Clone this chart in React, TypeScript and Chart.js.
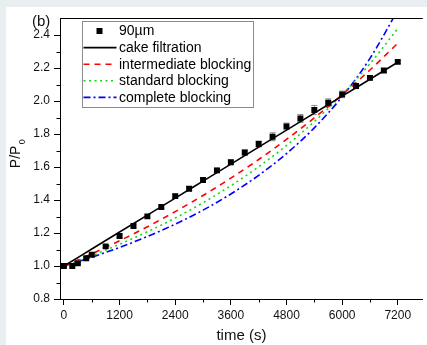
import React, { useEffect, useRef } from 'react';
import { Chart, registerables } from 'chart.js';

Chart.register(...registerables);

// Measured data (time in s, P/P0)
const measuredTimes = [0, 180, 300, 480, 600, 900, 1200, 1500, 1800, 2100, 2400, 2700, 3000, 3300, 3600, 3900, 4200, 4500, 4800, 5100, 5400, 5700, 6000, 6300, 6600, 6900, 7200];
const measuredRatio = [1.0, 1.0, 1.016, 1.047, 1.068, 1.119, 1.182, 1.243, 1.301, 1.358, 1.424, 1.469, 1.522, 1.58, 1.629, 1.688, 1.74, 1.784, 1.847, 1.895, 1.946, 1.99, 2.041, 2.092, 2.141, 2.186, 2.238];
const measuredError = [0.004, 0.004, 0.005, 0.006, 0.006, 0.008, 0.008, 0.01, 0.01, 0.01, 0.012, 0.012, 0.012, 0.014, 0.014, 0.016, 0.018, 0.024, 0.02, 0.024, 0.028, 0.024, 0.02, 0.016, 0.014, 0.012, 0.01];

// Model curves
const modelTimes = [0, 600, 1200, 1800, 2400, 3000, 3600, 4200, 4800, 5400, 6000, 6600, 7200];
const cakeFiltration = [1.0, 1.103, 1.206, 1.309, 1.412, 1.515, 1.618, 1.721, 1.824, 1.927, 2.03, 2.133, 2.236];
const intermediateBlocking = [1.0, 1.074, 1.153, 1.238, 1.33, 1.428, 1.533, 1.646, 1.768, 1.898, 2.039, 2.189, 2.351];
const standardBlocking = [1.0, 1.063, 1.132, 1.208, 1.291, 1.384, 1.487, 1.602, 1.731, 1.876, 2.04, 2.227, 2.44];
const completeBlocking = [1.0, 1.053, 1.113, 1.179, 1.254, 1.339, 1.437, 1.55, 1.682, 1.838, 2.027, 2.259, 2.551];

const seriesLabels = ['90µm', 'cake filtration', 'intermediate blocking', 'standard blocking', 'complete blocking'];

// Axes
const xTicks = [0, 1200, 2400, 3600, 4800, 6000, 7200];
const xTickLabels = ['0', '1200', '2400', '3600', '4800', '6000', '7200'];
const xMinorTicks = [600, 1800, 3000, 4200, 5400, 6600];
const yTicks = [0.8, 1.0, 1.2, 1.4, 1.6, 1.8, 2.0, 2.2, 2.4];
const yTickLabels = ['0.8', '1.0', '1.2', '1.4', '1.6', '1.8', '2.0', '2.2', '2.4'];
const yMinorTicks = [0.9, 1.1, 1.3, 1.5, 1.7, 1.9, 2.1, 2.3];
const xTitle = 'time (s)';
const yTitleMain = 'P/P';
const yTitleSub = '0';
const panelLabel = '(b)';

const FONT = '"Liberation Sans", Arial, Helvetica, sans-serif';

const extrasPlugin = {
  id: 'extras',
  beforeDatasetsDraw(chart: any) {
    const { ctx, scales } = chart;
    const x = scales.x;
    const y = scales.y;
    ctx.save();
    ctx.strokeStyle = '#8c8c8c';
    ctx.lineWidth = 1;
    measuredTimes.forEach((t, i) => {
      const px = x.getPixelForValue(t);
      const top = y.getPixelForValue(measuredRatio[i] + measuredError[i]);
      const bot = y.getPixelForValue(measuredRatio[i] - measuredError[i]);
      ctx.beginPath();
      ctx.moveTo(px, top);
      ctx.lineTo(px, bot);
      ctx.moveTo(px - 3, top);
      ctx.lineTo(px + 3, top);
      ctx.moveTo(px - 3, bot);
      ctx.lineTo(px + 3, bot);
      ctx.stroke();
    });
    ctx.restore();
  },
  afterDraw(chart: any) {
    const { ctx, chartArea, scales } = chart;
    const x = scales.x;
    const y = scales.y;
    ctx.save();
    // top frame line
    ctx.strokeStyle = '#000';
    ctx.lineWidth = 1;
    const ty = Math.round(chartArea.top) + 0.5;
    ctx.beginPath();
    ctx.moveTo(chartArea.left, ty);
    ctx.lineTo(chartArea.right, ty);
    ctx.stroke();
    // minor ticks
    ctx.beginPath();
    xMinorTicks.forEach((v) => {
      const px = Math.round(x.getPixelForValue(v)) + 0.5;
      ctx.moveTo(px, chartArea.bottom);
      ctx.lineTo(px, chartArea.bottom + 3.5);
    });
    yMinorTicks.forEach((v) => {
      const py = Math.round(y.getPixelForValue(v)) + 0.5;
      ctx.moveTo(chartArea.left, py);
      ctx.lineTo(chartArea.left - 3.5, py);
    });
    ctx.stroke();

    // panel label
    ctx.fillStyle = '#111';
    ctx.font = `15px ${FONT}`;
    ctx.textAlign = 'left';
    ctx.textBaseline = 'middle';
    ctx.fillText(panelLabel, chartArea.left - 28, chartArea.top + 4);

    // y title with subscript
    ctx.save();
    ctx.translate(chartArea.left - 40, chartArea.top + 150);
    ctx.rotate(-Math.PI / 2);
    ctx.textBaseline = 'alphabetic';
    ctx.font = `14px ${FONT}`;
    ctx.fillText(yTitleMain, 0, 0);
    const w1 = ctx.measureText(yTitleMain).width;
    ctx.font = `9px ${FONT}`;
    ctx.fillText(yTitleSub, w1 + 1.5, 5);
    ctx.restore();

    // legend
    const bx = Math.round(chartArea.left + 22) + 0.5;
    const by = Math.round(chartArea.top + 3) + 0.5;
    const bw = 171;
    const bh = 86;
    ctx.strokeStyle = '#8a8a8a';
    ctx.lineWidth = 1;
    ctx.strokeRect(bx, by, bw, bh);
    ctx.font = `14px ${FONT}`;
    ctx.textBaseline = 'middle';
    chart.data.datasets.forEach((ds: any, i: number) => {
      const ry = by + 9.5 + i * 16.6;
      if (i === 0) {
        ctx.fillStyle = '#000';
        ctx.fillRect(bx + 14, ry - 3, 6, 6);
      } else {
        ctx.save();
        ctx.strokeStyle = ds.borderColor;
        ctx.lineWidth = ds.borderWidth;
        ctx.setLineDash(ds.borderDash || []);
        ctx.beginPath();
        ctx.moveTo(bx + 1, ry);
        ctx.lineTo(bx + 34, ry);
        ctx.stroke();
        ctx.restore();
      }
      ctx.fillStyle = '#000';
      ctx.fillText(ds.label, bx + 36.5, ry + 0.5);
    });
    ctx.restore();
  },
};

function pts(xs: number[], ys: number[]) {
  return xs.map((t, i) => ({ x: t, y: ys[i] }));
}

export default function App() {
  const ref = useRef<HTMLCanvasElement>(null);

  useEffect(() => {
    if (!ref.current) return;
    const lineBase = {
      showLine: true,
      pointRadius: 0,
      pointHoverRadius: 0,
      borderWidth: 1.6,
      cubicInterpolationMode: 'monotone' as const,
      fill: false,
    };
    const chart = new Chart(ref.current, {
      type: 'scatter',
      data: {
        datasets: [
          {
            label: seriesLabels[0],
            data: pts(measuredTimes, measuredRatio),
            showLine: false,
            pointStyle: 'rect',
            pointRadius: 4.2,
            pointBorderWidth: 0,
            backgroundColor: '#000',
            borderColor: '#000',
          },
          { ...lineBase, label: seriesLabels[1], data: pts(modelTimes, cakeFiltration), borderColor: '#000000', borderDash: [] },
          { ...lineBase, label: seriesLabels[2], data: pts(modelTimes, intermediateBlocking), borderColor: '#ff0000', borderDash: [6, 5] },
          { ...lineBase, label: seriesLabels[3], data: pts(modelTimes, standardBlocking), borderColor: '#11dd11', borderDash: [2, 3.5] },
          { ...lineBase, label: seriesLabels[4], data: pts(modelTimes, completeBlocking), borderColor: '#0000ff', borderDash: [7, 3, 2, 3] },
        ] as any,
      },
      options: {
        responsive: false,
        animation: false,
        events: [],
        layout: { padding: { top: 4.5, right: 0, bottom: 0, left: 0 } },
        plugins: { legend: { display: false }, tooltip: { enabled: false } },
        scales: {
          x: {
            type: 'linear',
            min: -85,
            max: 7740,
            afterFit(s: any) { s.height = 46; },
            afterBuildTicks(s: any) { s.ticks = xTicks.map((v) => ({ value: v })); },
            ticks: {
              autoSkip: false,
              maxRotation: 0,
              padding: 3,
              color: '#111',
              font: { family: FONT, size: 12 },
              callback: (_v: any, i: number) => xTickLabels[i],
            },
            grid: { drawOnChartArea: false, drawTicks: true, tickLength: 6, tickColor: '#000', tickWidth: 1 },
            border: { display: true, color: '#000', width: 1 },
            title: { display: true, text: xTitle, color: '#111', font: { family: FONT, size: 15 }, padding: { top: 0, bottom: 0 } },
          },
          y: {
            type: 'linear',
            min: 0.8,
            max: 2.503,
            afterFit(s: any) { s.width = 54; },
            afterBuildTicks(s: any) { s.ticks = yTicks.map((v) => ({ value: v })); },
            ticks: {
              autoSkip: false,
              padding: 4,
              color: '#111',
              font: { family: FONT, size: 12 },
              callback: (_v: any, i: number) => yTickLabels[i],
            },
            grid: { drawOnChartArea: false, drawTicks: true, tickLength: 6, tickColor: '#000', tickWidth: 1 },
            border: { display: true, color: '#000', width: 1 },
          },
        },
      },
      plugins: [extrasPlugin],
    } as any);
    return () => chart.destroy();
  }, []);

  return (
    <div style={{ position: 'fixed', left: 0, top: 0, width: 427, height: 345, background: '#e9eff1', overflow: 'hidden' }}>
      <canvas
        ref={ref}
        width={421}
        height={338}
        style={{ position: 'absolute', left: 6, top: 7, width: 421, height: 338, background: '#ffffff' }}
      />
    </div>
  );
}
